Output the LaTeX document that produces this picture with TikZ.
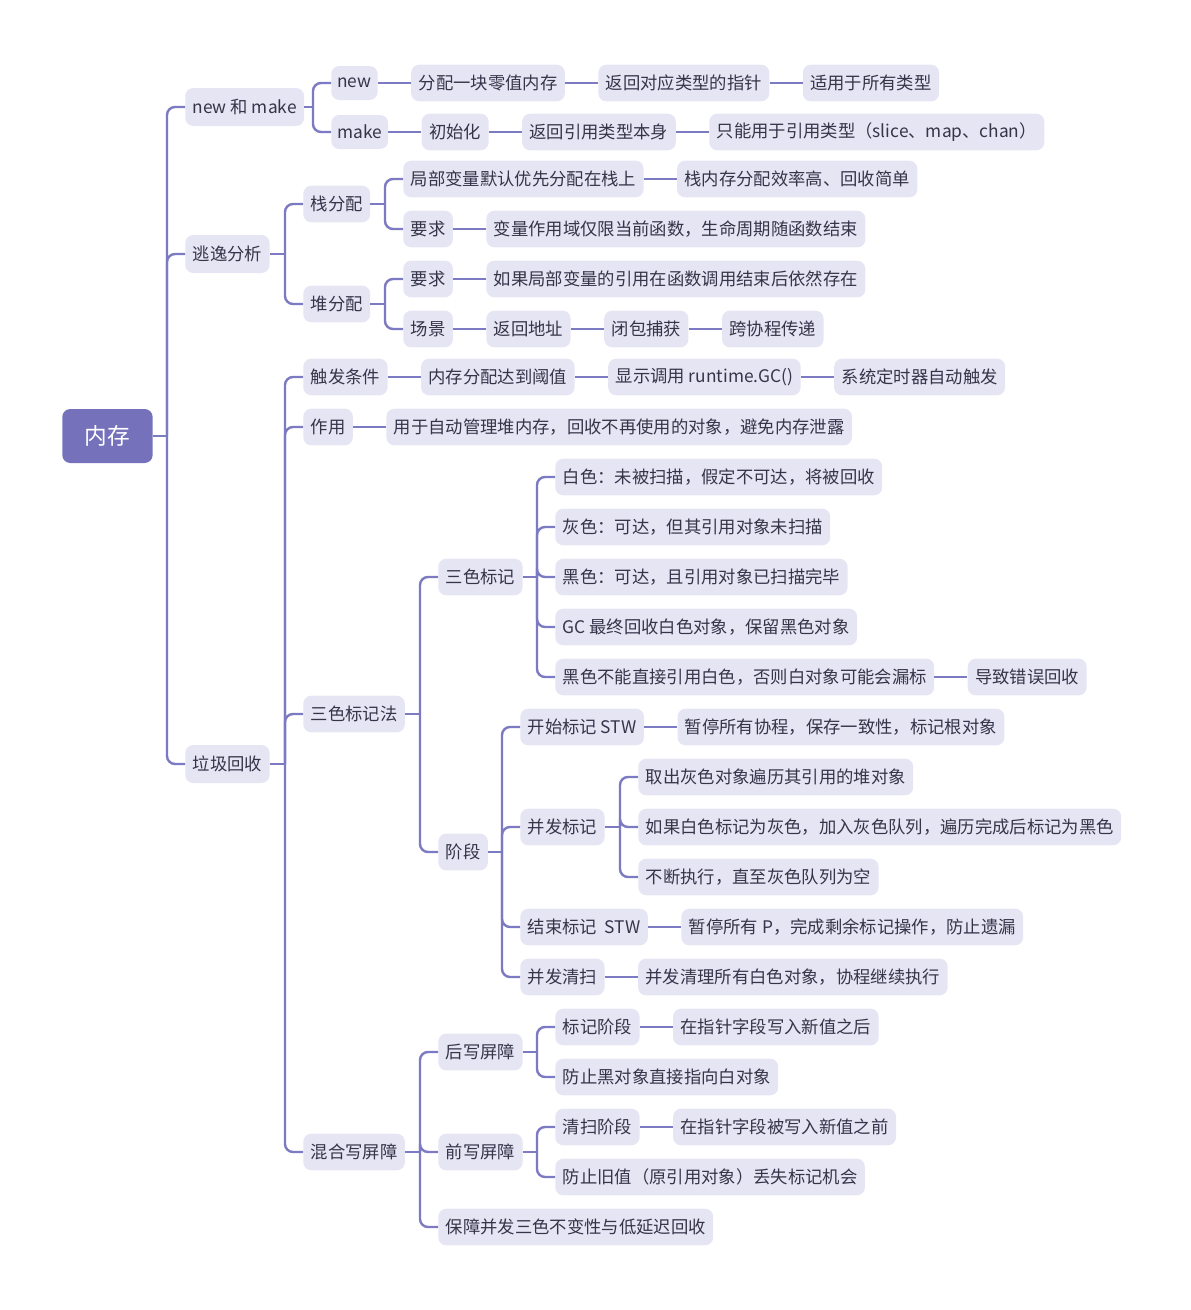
\documentclass[tikz,border=0pt]{standalone}
\usepackage{fontspec}
\setmainfont{Noto Sans CJK SC}
\usepackage{tikz}
\usetikzlibrary{positioning, calc}

\definecolor{rootc}{HTML}{7572BB}
\definecolor{boxc}{HTML}{E6E5F4}
\definecolor{linec}{HTML}{7C7AC2}
\definecolor{textc}{HTML}{35354A}

\begin{document}
\begin{tikzpicture}[
  x=0.75pt, y=-0.75pt,
  node distance=24.75pt,
  root/.style={fill=rootc, text=white, rounded corners=6pt, anchor=west, minimum height=40.5pt, inner xsep=16.9pt, font=\fontsize{17pt}{20pt}\selectfont},
  topic/.style={fill=boxc, text=textc, rounded corners=6pt, anchor=west, minimum height=28.5pt, inner xsep=5.6pt, inner ysep=2pt, font=\fontsize{13pt}{15pt}\selectfont},
  item/.style={topic, minimum height=27.5pt},
  word/.style={topic, minimum height=25.5pt, inner xsep=4.6pt},
  link/.style={draw=linec, line width=1.8pt}
]
\useasboundingbox (0,0) rectangle (1190,1310);

% root and first level
\node[root] (mem) at (62,436) {内存};
\node[topic] (nm) at (185,107) {new 和 make};
\node[topic] (esc) at (185,254) {逃逸分析};
\node[topic] (gc) at (185,764) {垃圾回收};

% new / make
\node[word] (new) at (331,83) {new};
\node[item, right=of new] (new1) {分配一块零值内存};
\node[item, right=of new1] (new2) {返回对应类型的指针};
\node[item, right=of new2] (new3) {适用于所有类型};
\node[word] (make) at (331,132) {make};
\node[item, right=of make] (make1) {初始化};
\node[item, right=of make1] (make2) {返回引用类型本身};
\node[item, right=of make2] (make3) {只能用于引用类型（slice、map、chan）};

% escape analysis
\node[item] (stack) at (303,204) {栈分配};
\node[item] (heap) at (303,304) {堆分配};
\node[item] (stk1) at (403,179) {局部变量默认优先分配在栈上};
\node[item, right=of stk1] (stk1a) {栈内存分配效率高、回收简单};
\node[item] (stk2) at (403,229) {要求};
\node[item, right=of stk2] (stk2a) {变量作用域仅限当前函数，生命周期随函数结束};
\node[item] (hp1) at (403,279) {要求};
\node[item, right=of hp1] (hp1a) {如果局部变量的引用在函数调用结束后依然存在};
\node[item] (hp2) at (403,329) {场景};
\node[item, right=of hp2] (hp2a) {返回地址};
\node[item, right=of hp2a] (hp2b) {闭包捕获};
\node[item, right=of hp2b] (hp2c) {跨协程传递};

% garbage collection
\node[item] (trig) at (303,377) {触发条件};
\node[item, right=of trig] (trig1) {内存分配达到阈值};
\node[item, right=of trig1] (trig2) {显示调用 runtime.GC()};
\node[item, right=of trig2] (trig3) {系统定时器自动触发};
\node[item] (role) at (303,427) {作用};
\node[item, right=of role] (role1) {用于自动管理堆内存，回收不再使用的对象，避免内存泄露};
\node[item] (tri) at (303,714) {三色标记法};
\node[item] (hyb) at (303,1152) {混合写屏障};

% tri-colour marking
\node[item] (mark) at (438,577) {三色标记};
\node[item] (phase) at (438,852) {阶段};
\node[item] (white) at (555,477) {白色：未被扫描，假定不可达，将被回收};
\node[item] (gray) at (555,527) {灰色：可达，但其引用对象未扫描};
\node[item] (black) at (555,577) {黑色：可达，且引用对象已扫描完毕};
\node[item] (final) at (555,627) {GC 最终回收白色对象，保留黑色对象};
\node[item] (rule) at (555,677) {黑色不能直接引用白色，否则白对象可能会漏标};
\node[item, right=of rule] (rule1) {导致错误回收};

\node[item] (ph1) at (520,727) {开始标记 STW};
\node[item, right=of ph1] (ph1a) {暂停所有协程，保存一致性，标记根对象};
\node[item] (ph2) at (520,827) {并发标记};
\node[item] (ph2a) at (638,777) {取出灰色对象遍历其引用的堆对象};
\node[item] (ph2b) at (638,827) {如果白色标记为灰色，加入灰色队列，遍历完成后标记为黑色};
\node[item] (ph2c) at (638,877) {不断执行，直至灰色队列为空};
\node[item] (ph3) at (520,927) {结束标记\ \ STW};
\node[item, right=of ph3] (ph3a) {暂停所有 P，完成剩余标记操作，防止遗漏};
\node[item] (ph4) at (520,977) {并发清扫};
\node[item, right=of ph4] (ph4a) {并发清理所有白色对象，协程继续执行};

% hybrid write barrier
\node[item] (post) at (438,1052) {后写屏障};
\node[item] (post1) at (555,1027) {标记阶段};
\node[item, right=of post1] (post1a) {在指针字段写入新值之后};
\node[item] (post2) at (555,1077) {防止黑对象直接指向白对象};
\node[item] (pre) at (438,1152) {前写屏障};
\node[item] (pre1) at (555,1127) {清扫阶段};
\node[item, right=of pre1] (pre1a) {在指针字段被写入新值之前};
\node[item] (pre2) at (555,1177) {防止旧值（原引用对象）丢失标记机会};
\node[item] (keep) at (438,1227) {保障并发三色不变性与低延迟回收};

% tree branches
\foreach \p/\c in {mem/nm, mem/esc, mem/gc, nm/new, nm/make, esc/stack, esc/heap,
    stack/stk1, stack/stk2, heap/hp1, heap/hp2, gc/trig, gc/role, gc/tri, gc/hyb,
    tri/mark, tri/phase, mark/white, mark/gray, mark/black, mark/final, mark/rule,
    phase/ph1, phase/ph2, phase/ph3, phase/ph4, ph2/ph2a, ph2/ph2b, ph2/ph2c,
    hyb/post, hyb/pre, hyb/keep, post/post1, post/post2, pre/pre1, pre/pre2} {
  \path ($(\c.west)+(-18,0)$) coordinate (j);
  \draw[link] (\p.east) -- (\p.east -| j);
  \draw[link, rounded corners=6pt] (\p.east -| j) |- (\c.west);
}

% chains
\foreach \a/\b in {new/new1, new1/new2, new2/new3, make/make1, make1/make2, make2/make3,
    stk1/stk1a, stk2/stk2a, hp1/hp1a, hp2/hp2a, hp2a/hp2b, hp2b/hp2c,
    trig/trig1, trig1/trig2, trig2/trig3, role/role1, rule/rule1,
    ph1/ph1a, ph3/ph3a, ph4/ph4a, post1/post1a, pre1/pre1a}
  \draw[link] (\a.east) -- (\b.west);

\end{tikzpicture}
\end{document}
